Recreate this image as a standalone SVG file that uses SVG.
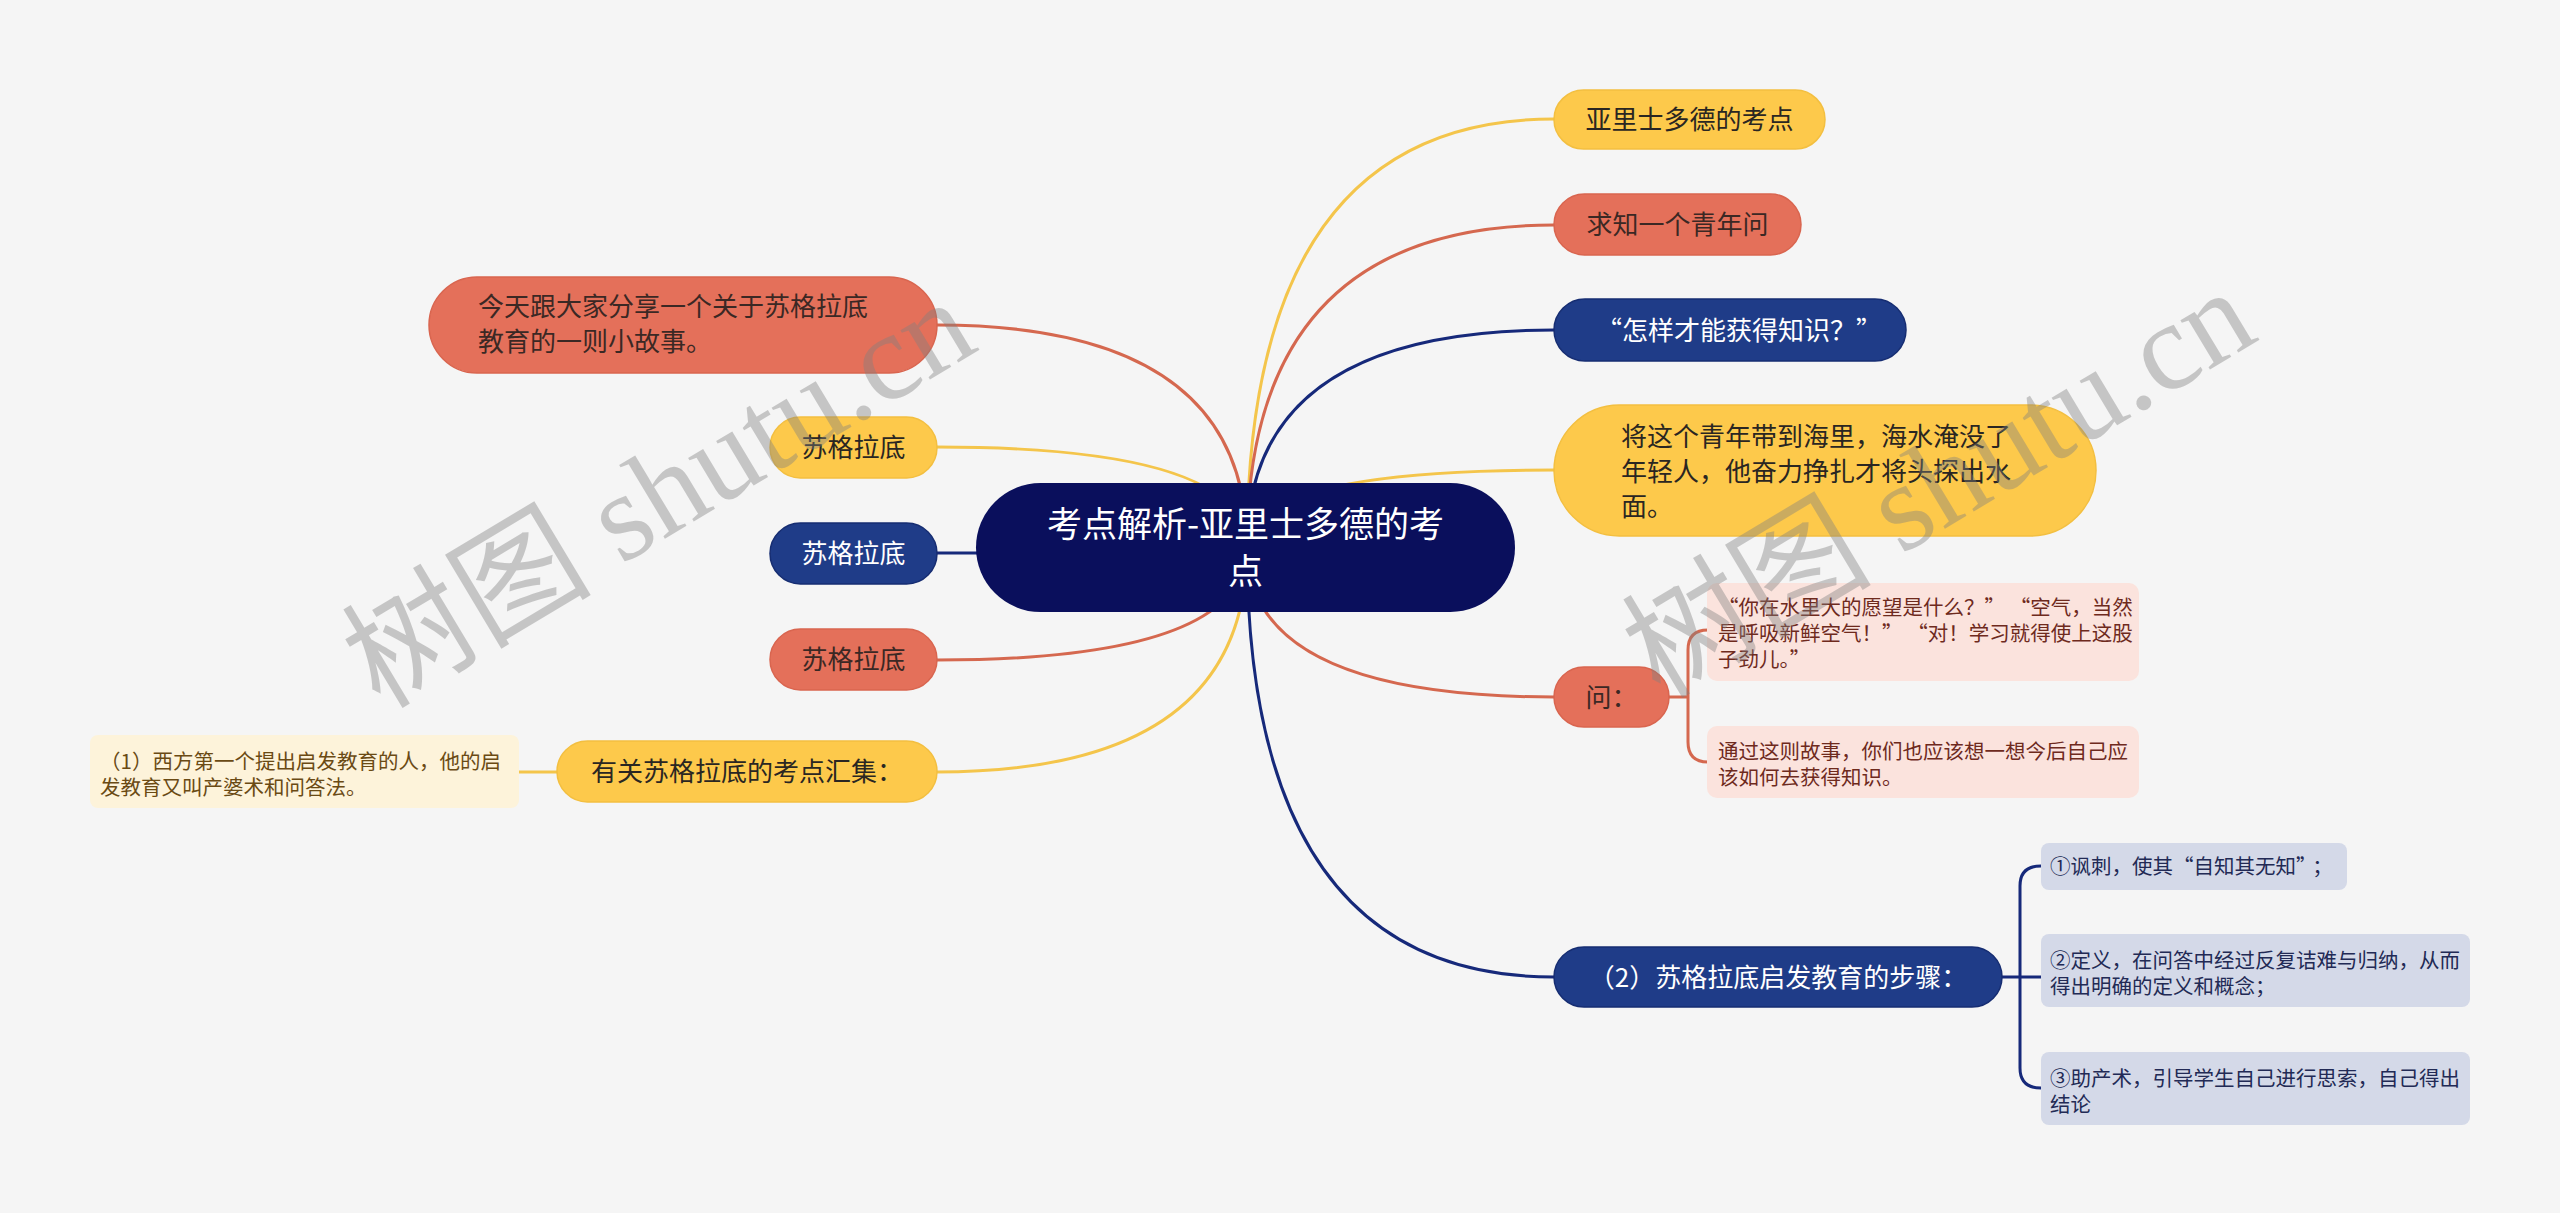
<svg xmlns="http://www.w3.org/2000/svg" width="2560" height="1213" viewBox="0 0 2560 1213">
<defs>
<style>
.c{fill:none;stroke-width:3;stroke-linecap:round}
.cy{stroke:#f4c54b}
.cr{stroke:#d5684f}
.cb{stroke:#16297a}
.ny{fill:#fdc94b;stroke:#f3bf40;stroke-width:1.5}
.nr{fill:#e4705a;stroke:#d9654f;stroke-width:1.5}
.nb{fill:#1f3c88;stroke:#162d72;stroke-width:1.5}
.nc{fill:#0a0f5c}
.bp{fill:#fbe3dd}
.bs{fill:#d4d9e8}
.bl{fill:#fdf3da}
text{font-family:"Noto Sans CJK SC","Noto Sans",sans-serif}
.t{font-size:26px}
.m{text-anchor:middle}
.dk{fill:#2a2622}
.dr{fill:#3b2824}
.w{fill:#ffffff}
.s{font-size:20.5px}
.sp{fill:#6e2a1d}
.ss{fill:#222a55}
.sl{fill:#6a4a14}
.wm{font-family:"Liberation Serif","Noto Sans CJK SC",serif;font-size:125px;fill:#808080;opacity:0.4}
</style>
</defs>
<rect width="2560" height="1213" fill="#f5f5f5"/>
<g id="connectors">
<path class="c cy" d="M1247,547 Q1247,119 1554,119"/>
<path class="c cr" d="M1247,547 Q1247,225 1554,225"/>
<path class="c cb" d="M1247,547 Q1247,330 1554,330"/>
<path class="c cy" d="M1247,547 Q1247,470 1554,470"/>
<path class="c cr" d="M1247,547 Q1247,697 1554,697"/>
<path class="c cb" d="M1247,547 Q1247,977 1554,977"/>
<path class="c cr" d="M1247,547 Q1247,325 937,325"/>
<path class="c cy" d="M1247,547 Q1247,447 937,447"/>
<path class="c cb" d="M1247,547 Q1247,553 937,553"/>
<path class="c cr" d="M1247,547 Q1247,660 937,660"/>
<path class="c cy" d="M1247,547 Q1247,772 937,772"/>
<path class="c cr" d="M1669,697 H1688 M1708,630 Q1688,630 1688,650 V742 Q1688,762 1708,762"/>
<path class="c cb" d="M2002,977 H2041 M2041,866 Q2020,866 2020,886 V1068 Q2020,1088 2041,1088"/>
<path class="c cy" d="M557,772 H519"/>
</g>
<g id="center">
<rect class="nc" x="976" y="483" width="539" height="129" rx="64.5"/>
<text class="w m" style="font-size:35px" x="1245.5" y="537">考点解析-亚里士多德的考</text>
<text class="w m" style="font-size:35px" x="1245.5" y="584">点</text>
</g>
<g id="n-r1">
<rect class="ny" x="1554" y="90" width="271" height="59" rx="29.5"/>
<text class="t m dk" x="1689.5" y="129">亚里士多德的考点</text>
</g>
<g id="n-r2">
<rect class="nr" x="1554" y="194" width="247" height="61" rx="30.5"/>
<text class="t m dr" x="1677.5" y="234">求知一个青年问</text>
</g>
<g id="n-r3">
<rect class="nb" x="1554" y="299" width="352" height="62" rx="31"/>
<text class="t w" x="1596" y="339.5">“怎样才能获得知识？”</text>
</g>
<g id="n-r4">
<rect class="ny" x="1554" y="405" width="542" height="131" rx="65.5"/>
<text class="t dk" x="1621" y="446">将这个青年带到海里，海水淹没了</text>
<text class="t dk" x="1621" y="481">年轻人，他奋力挣扎才将头探出水</text>
<text class="t dk" x="1621" y="516">面。</text>
</g>
<g id="n-r5">
<rect class="nr" x="1554" y="667" width="115" height="60" rx="30"/>
<text class="t m dr" x="1611.5" y="706.5">问：</text>
</g>
<g id="n-r5a">
<rect class="bp" x="1707" y="583" width="432" height="98" rx="10"/>
<text class="s sp" x="1718" y="615">“你在水里大的愿望是什么？”<tspan dx="15">“</tspan>空气，当然</text>
<text class="s sp" x="1718" y="641">是呼吸新鲜空气！”<tspan dx="15">“</tspan>对！学习就得使上这股</text>
<text class="s sp" x="1718" y="667">子劲儿。”</text>
</g>
<g id="n-r5b">
<rect class="bp" x="1707" y="726" width="432" height="72" rx="10"/>
<text class="s sp" x="1718" y="759">通过这则故事，你们也应该想一想今后自己应</text>
<text class="s sp" x="1718" y="785">该如何去获得知识。</text>
</g>
<g id="n-r6">
<rect class="nb" x="1554" y="947" width="448" height="60" rx="30"/>
<text class="t m w" x="1778" y="986.5">（2）苏格拉底启发教育的步骤：</text>
</g>
<g id="n-r6a">
<rect class="bs" x="2041" y="843" width="306" height="47" rx="8"/>
<text class="s ss" x="2050" y="874">①讽刺，使其“自知其无知”<tspan dx="6">；</tspan></text>
</g>
<g id="n-r6b">
<rect class="bs" x="2041" y="934" width="429" height="73" rx="8"/>
<text class="s ss" x="2050" y="968">②定义，在问答中经过反复诘难与归纳，从而</text>
<text class="s ss" x="2050" y="994">得出明确的定义和概念；</text>
</g>
<g id="n-r6c">
<rect class="bs" x="2041" y="1052" width="429" height="73" rx="8"/>
<text class="s ss" x="2050" y="1086">③助产术，引导学生自己进行思索，自己得出</text>
<text class="s ss" x="2050" y="1112">结论</text>
</g>
<g id="n-l1">
<rect class="nr" x="429" y="277" width="508" height="96" rx="48"/>
<text class="t dr" x="478" y="316">今天跟大家分享一个关于苏格拉底</text>
<text class="t dr" x="478" y="351">教育的一则小故事。</text>
</g>
<g id="n-l2">
<rect class="ny" x="770" y="417" width="167" height="61" rx="30.5"/>
<text class="t m dk" x="853.5" y="457">苏格拉底</text>
</g>
<g id="n-l3">
<rect class="nb" x="770" y="523" width="167" height="61" rx="30.5"/>
<text class="t m w" x="853.5" y="563">苏格拉底</text>
</g>
<g id="n-l4">
<rect class="nr" x="770" y="629" width="167" height="61" rx="30.5"/>
<text class="t m dr" x="853.5" y="669">苏格拉底</text>
</g>
<g id="n-l5">
<rect class="ny" x="557" y="741" width="380" height="61" rx="30.5"/>
<text class="t m dk" x="747" y="781">有关苏格拉底的考点汇集：</text>
</g>
<g id="n-l5a">
<rect class="bl" x="90" y="735" width="429" height="73" rx="8"/>
<text class="s sl" x="100" y="769">（1）西方第一个提出启发教育的人，他的启</text>
<text class="s sl" x="100" y="795">发教育又叫产婆术和问答法。</text>
</g>
<g id="watermark">
<text class="wm" x="380" y="710" transform="rotate(-31 380 710)">树图 shutu.cn</text>
<text class="wm" x="1660" y="700" transform="rotate(-31 1660 700)">树图 shutu.cn</text>
</g>
</svg>
